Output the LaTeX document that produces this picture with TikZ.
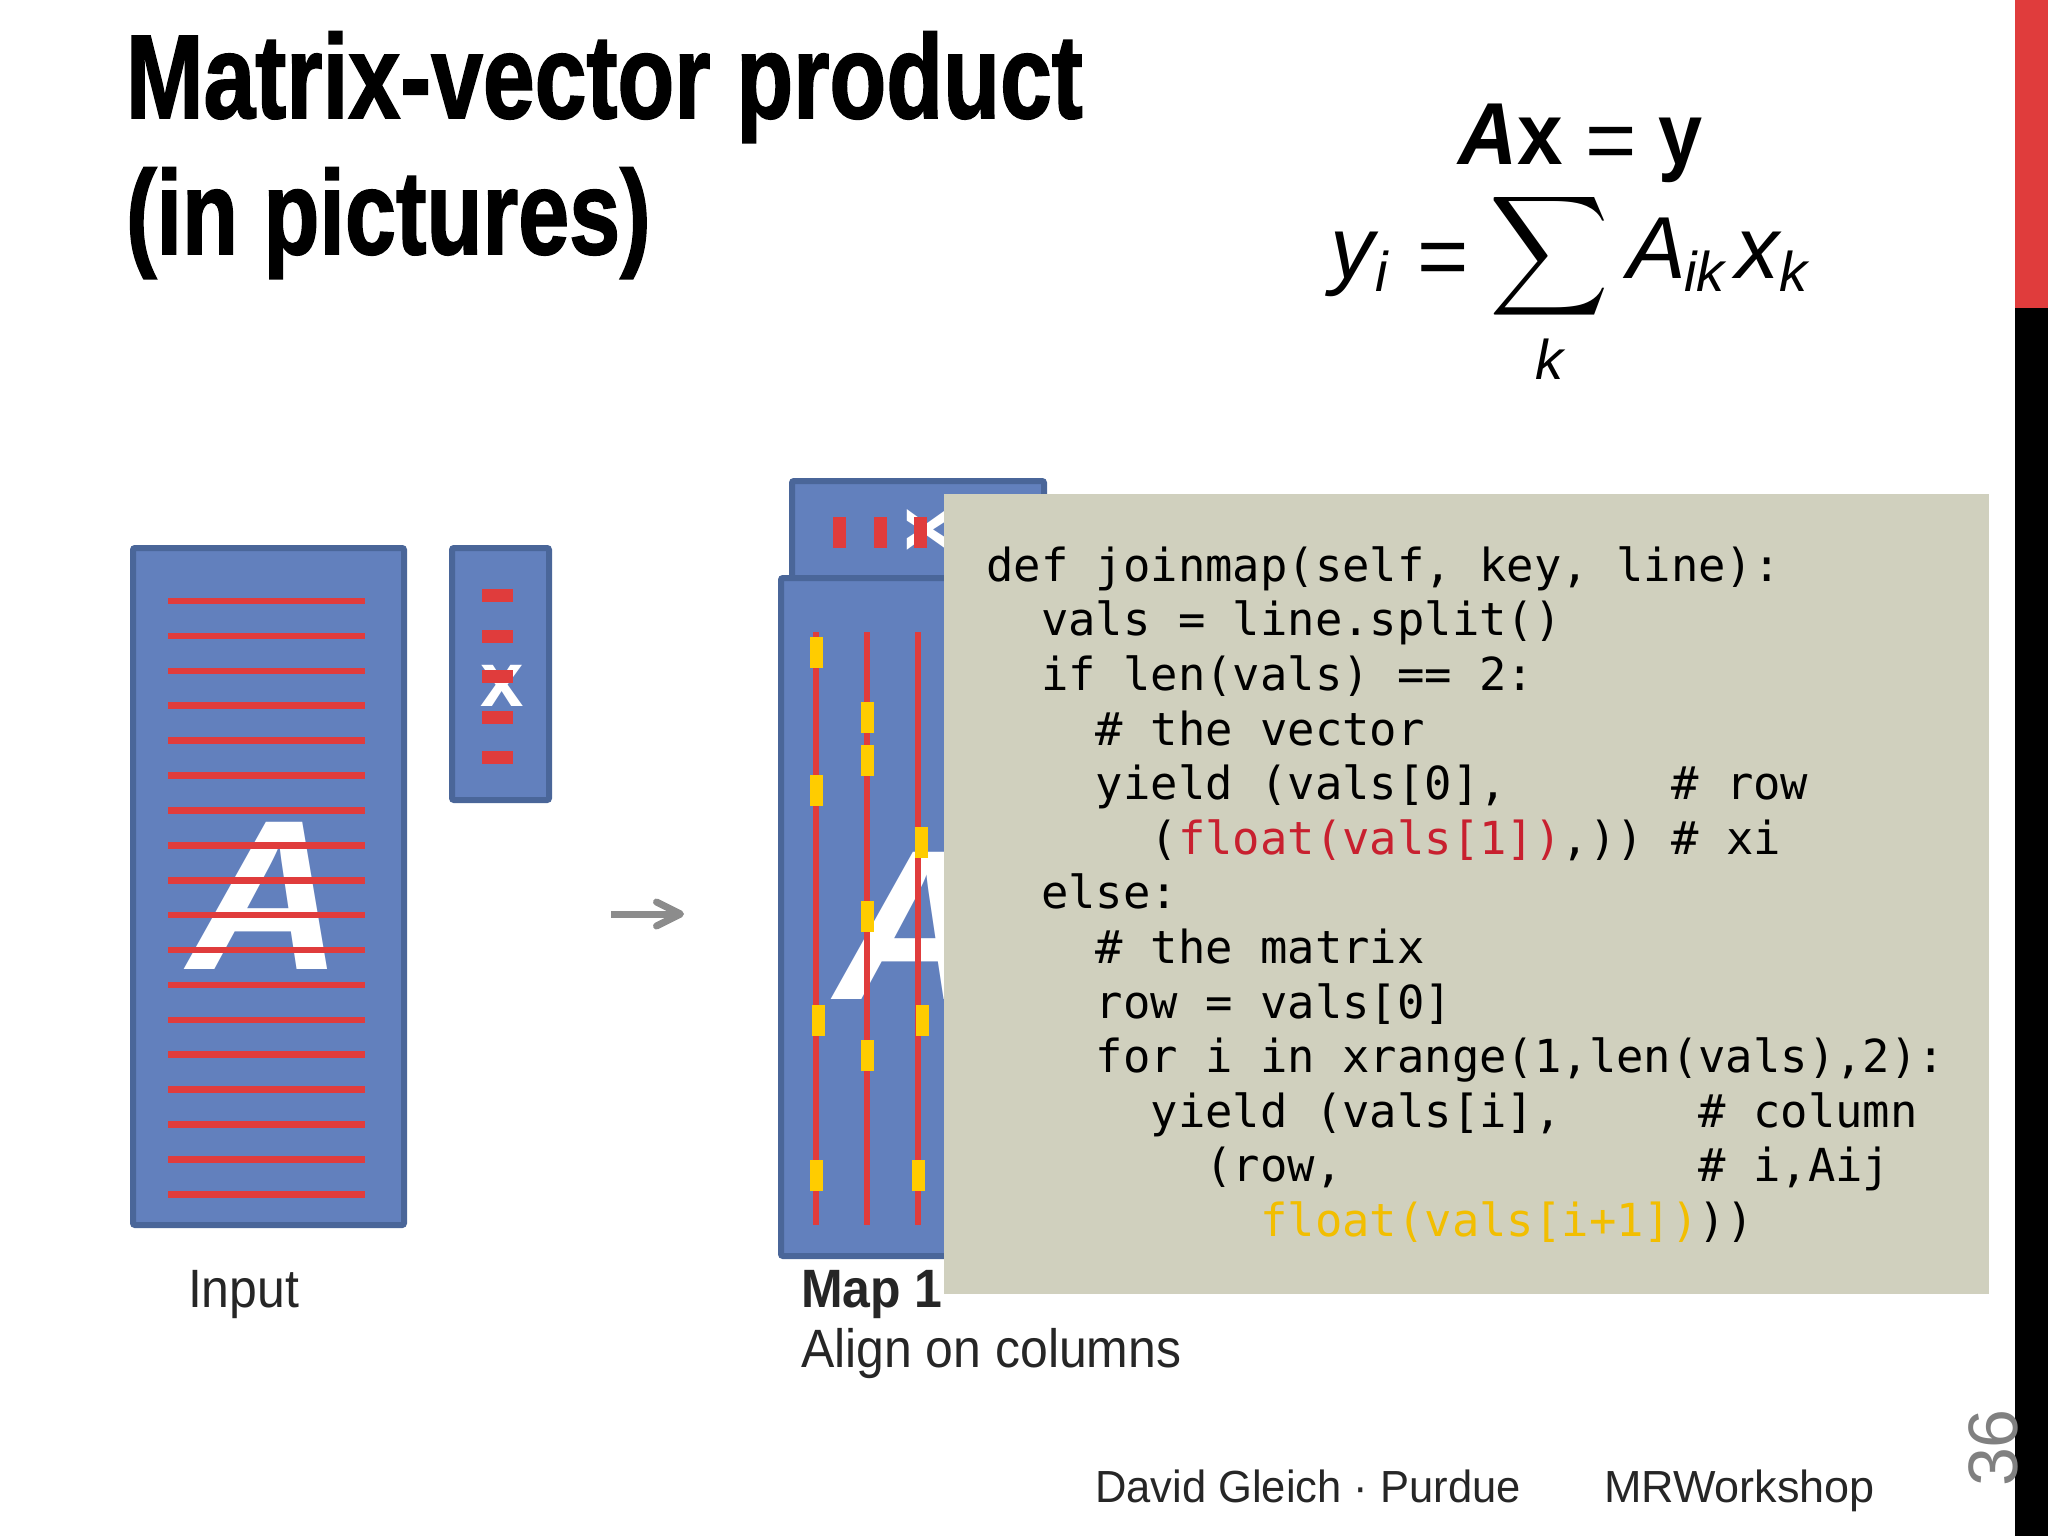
\documentclass[tikz,border=0pt]{standalone}
\usepackage{fontspec}
\setmainfont{Liberation Sans}
\newfontfamily\titlefamily[BoldFeatures={FakeBold=1.6}]{Liberation Sans}
\newfontfamily\codefamily{DejaVu Sans Mono}
\usetikzlibrary{positioning, arrows.meta}
\definecolor{boxfill}{HTML}{6280BD}
\definecolor{boxedge}{HTML}{4A6699}
\definecolor{barred}{HTML}{E03C3C}
\definecolor{nzyellow}{HTML}{FFCC00}
\definecolor{codebg}{HTML}{D0D0BE}
\definecolor{codered}{HTML}{C8202F}
\definecolor{codeyellow}{HTML}{F2BE00}
\definecolor{pagegray}{HTML}{808080}

\begin{document}
\begin{tikzpicture}[x=0.5pt, y=-0.5pt,
    plain/.style={inner sep=0pt, outer sep=0pt, anchor=base west},
    titletext/.style={plain, xscale=.781, font=\titlefamily\fontsize{59.6}{60}\selectfont\bfseries},
    eqtext/.style={plain, font=\fontsize{44}{44}\selectfont},
    eqsub/.style={plain, font=\fontsize{28}{28}\selectfont\itshape},
    caption/.style={plain, xscale=.925, text=black!85, font=\fontsize{27}{27}\selectfont},
    footer/.style={plain, text=black!85, font=\fontsize{22.5}{23}\selectfont},
    matrixbox/.style={rectangle,
      draw=boxedge,
      fill=boxfill,
      line width=3pt,
      rounded corners=1pt,
      anchor=north west,
      inner sep=0pt},
    bigletter/.style={plain, text=white, font=\fontsize{107}{107}\selectfont\bfseries\itshape},
    xletter/.style={inner sep=0pt, outer sep=0pt, text=white, font=\fontsize{39}{39}\selectfont\bfseries},
    rowbar/.style={barred, line width=3.3pt},
    colbar/.style={barred, line width=3.4pt},
    xdash/.style={rectangle, fill=barred, inner sep=0pt, minimum width=15.5pt, minimum height=6.5pt},
    xdashv/.style={rectangle, fill=barred, inner sep=0pt, minimum width=6.5pt, minimum height=15.5pt},
    nzmark/.style={rectangle, fill=nzyellow, inner sep=0pt, minimum width=6.5pt, minimum height=15.5pt},
    codepanel/.style={rectangle, fill=codebg, anchor=north west, inner sep=0pt,
      minimum width=522.5pt, minimum height=400pt},
    codetext/.style={inner sep=0pt, anchor=north west, align=left,
      font=\codefamily\fontsize{22.75}{27.3}\selectfont},
    flow/.style={-{Straight Barb[length=12pt, width=12pt, round]}, line width=3.5pt, color=black!45}]

  \useasboundingbox (0,0) rectangle (2048,1536);

  % SIDE BAR

  \fill[barred] (2015,0) rectangle (2048,308);
  \fill[black] (2015,308) rectangle (2048,1536);
  \node [inner sep=0pt, rotate=90, text=pagegray,
    font=\fontsize{35}{35}\selectfont] (pagenumber) at (1993,1448) {36};

  % TITLE

  \node [titletext] (titleone) at (126,118) {Matrix-vector product};
  \node [titletext, xscale=.985,
    below=68pt of titleone.base west,
    anchor=base west] (titletwo) {(in pictures)};

  % EQUATIONS

  \node [eqtext, xscale=.93, font=\fontsize{44}{44}\selectfont\bfseries] (eqax) at (1458,164) {\textit{A}x};
  \node [eqtext] (eqone) at (1585,170) {=};
  \node [eqtext, xscale=.9, font=\fontsize{44}{44}\selectfont\bfseries] (eqy) at (1658,164) {y};

  \node [eqtext, font=\fontsize{44}{44}\selectfont\itshape] (eqyi) at (1330,278) {y};
  \node [eqsub] (eqyisub) at (1375,291) {i};
  \node [eqtext] (eqtwo) at (1417,286) {=};
  \node [inner sep=0pt, xscale=4.15, yscale=4.2] (eqsum) at (1549,256) {$\displaystyle\sum$};
  \node [eqsub] (eqsumidx) at (1535,379) {k};
  \node [eqtext, font=\fontsize{44}{44}\selectfont\itshape] (eqa) at (1627,278) {A};
  \node [eqsub] (eqasub) at (1684,291) {ik};
  \node [eqtext, font=\fontsize{44}{44}\selectfont\itshape] (eqx) at (1735,278) {x};
  \node [eqsub] (eqxsub) at (1779,291) {k};

  % INPUT

  \node [matrixbox, minimum width=135.5pt, minimum height=338.5pt] (inputmatrix) at (130,545) {};
  \node [bigletter] (inputa) at (188,969) {A};
  \foreach \row in {0,...,17}
    \draw[rowbar] (168,{601+34.9*\row}) -- (365,{601+34.9*\row});

  \node [matrixbox, minimum width=48.5pt, minimum height=126pt] (inputvector) at (449,545) {};
  \node [xletter, anchor=base west] (inputx) at (480,706) {x};
  \foreach \ypos [count=\i] in {595,636,676,717,757}
    \node [xdash] (inputdash\i) at (497,\ypos) {};

  \node [caption] (inputcaption) at (188,1307) {Input};

  % MAP

  \node [matrixbox, minimum width=126pt, minimum height=60pt] (mapvector) at (789,478) {};
  \node [xletter, rotate=90] (mapx) at (928,530) {x};
  \foreach \xpos [count=\i] in {839,880,920}
    \node [xdashv] (mapdash\i) at (\xpos,532) {};

  \node [matrixbox, minimum width=146pt, minimum height=339pt] (mapmatrix) at (778,575) {};
  \node [bigletter] (mapa) at (835,999) {A};
  \foreach \col in {816,867,918}
    \draw[colbar] (\col,632) -- (\col,1225);
  \foreach \px/\py [count=\i] in {816/652,816/790,818/1020,816/1175,
    867/717,867/760,867/916,867/1055,
    921/842,922/1020,918/1175}
    \node [nzmark] (nz\i) at (\px,\py) {};

  \node [caption, font=\fontsize{27}{27}\selectfont\bfseries] (maptitle) at (801,1307) {Map 1};
  \node [caption,
    below=30pt of maptitle.base west,
    anchor=base west] (mapcaption) {Align on columns};

  % ARROW

  \coordinate (flowstart) at (611,914);
  \coordinate (flowend) at (684,914);
  \draw[flow] (flowstart) -- (flowend);

  % CODE

  \node [codepanel] (codebox) at (944,494) {};
  \node [codetext] (codelines) at (986,546) {
    def joinmap(self, key, line):\\
    ~~vals = line.split()\\
    ~~if len(vals) == 2:\\
    ~~~~\# the vector\\
    ~~~~yield (vals[0],~~~~~~\# row\\
    ~~~~~~({\color{codered}float(vals[1])},)) \# xi\\
    ~~else:\\
    ~~~~\# the matrix\\
    ~~~~row = vals[0]\\
    ~~~~for i in xrange(1,len(vals),2):\\
    ~~~~~~yield (vals[i],~~~~~\# column\\
    ~~~~~~~~(row,~~~~~~~~~~~~~\# i,Aij\\
    ~~~~~~~~~~{\color{codeyellow}float(vals[i+1])}))
  };

  % FOOTER

  \node [footer, xscale=.967] (footname) at (1095,1502) {David Gleich · Purdue};
  \node [footer] (footevent) at (1604,1502) {MRWorkshop};

\end{tikzpicture}
\end{document}
